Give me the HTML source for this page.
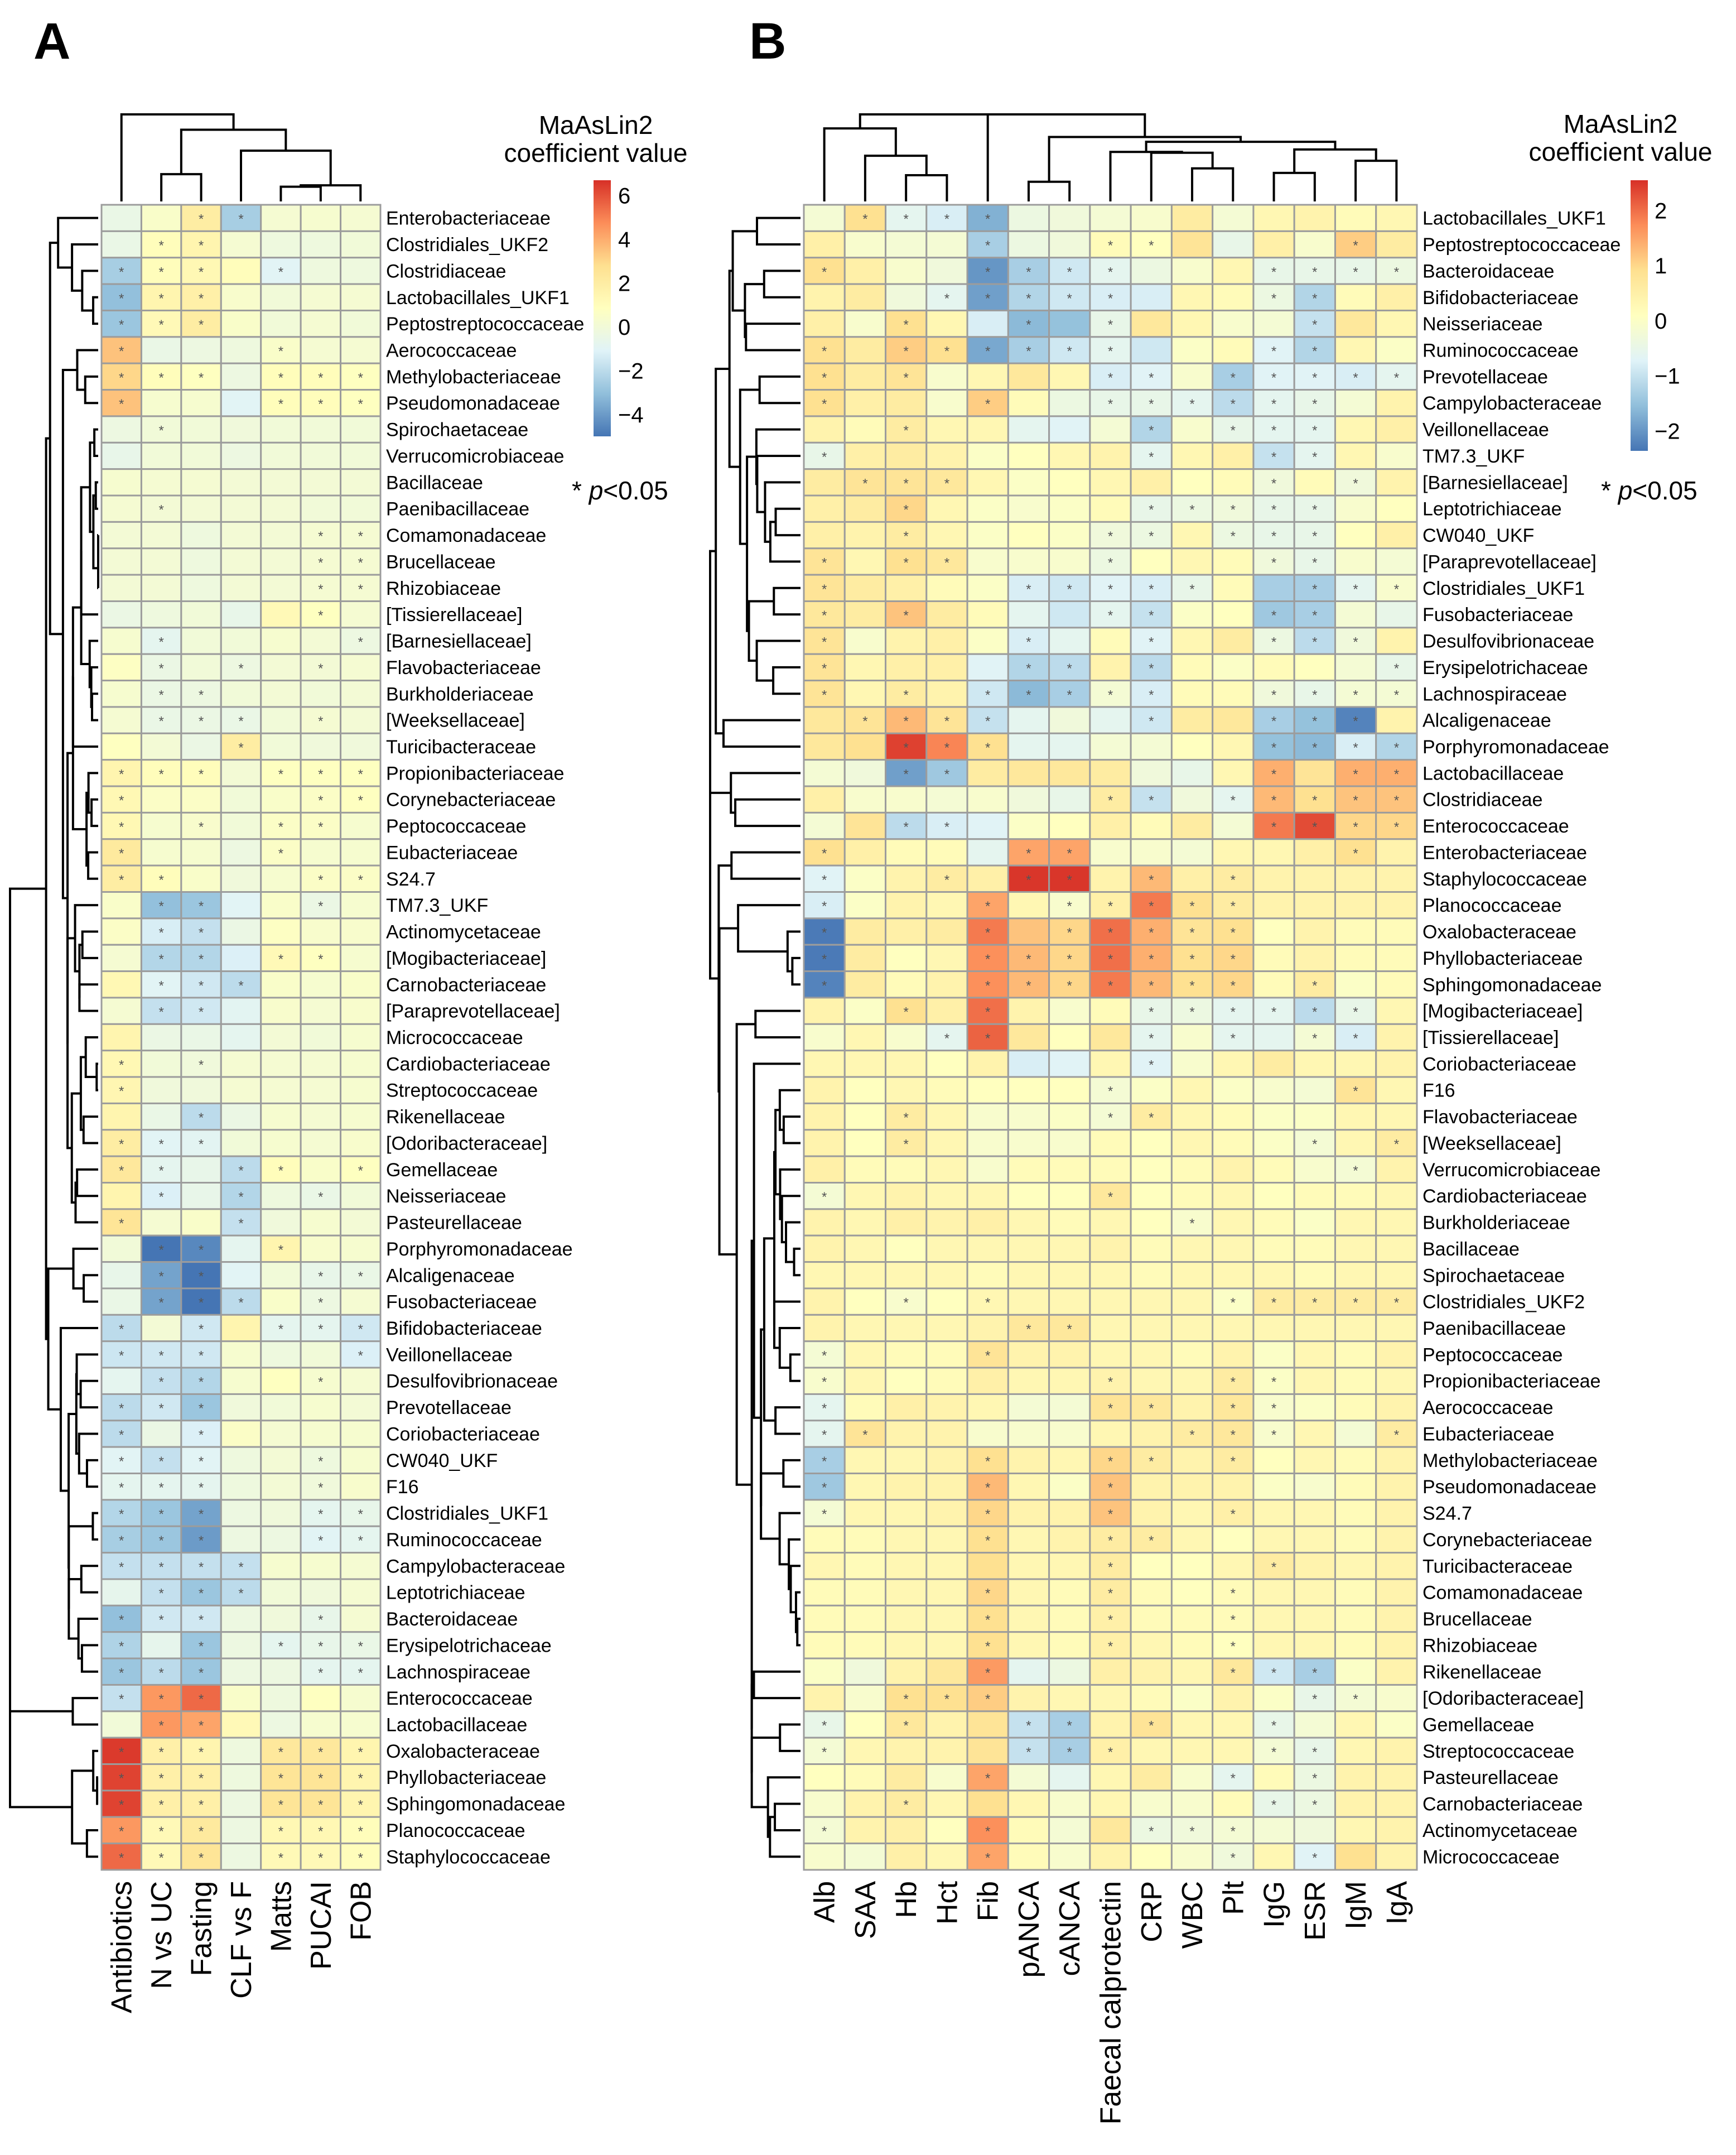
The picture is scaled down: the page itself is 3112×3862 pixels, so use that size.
<!DOCTYPE html>
<html><head><meta charset="utf-8"><title>MaAsLin2 heatmaps</title>
<style>
html,body{margin:0;padding:0;background:#fff;}
svg{display:block;font-family:"Liberation Sans",Arial,sans-serif;}
</style></head>
<body>
<svg id="chart" xmlns="http://www.w3.org/2000/svg" width="3112" height="3862" viewBox="0 0 3112 3862">
<defs>
<linearGradient id="gradA" x1="0" y1="1" x2="0" y2="0">
<stop offset="0" stop-color="#4575b4"/><stop offset="0.1667" stop-color="#91bfdb"/><stop offset="0.3333" stop-color="#e0f3f8"/><stop offset="0.5" stop-color="#ffffbf"/><stop offset="0.6667" stop-color="#fee090"/><stop offset="0.8333" stop-color="#fc8d59"/><stop offset="1" stop-color="#d73027"/>
</linearGradient>
</defs>
<rect x="0" y="0" width="3112" height="3862" fill="#fff"/>
<text x="60" y="105" font-size="92" font-weight="bold">A</text>
<text x="1343" y="105" font-size="92" font-weight="bold">B</text>
<g id="panelA"></g>
<g id="panelB"></g>
<g>
<text x="1068" y="240" font-size="46" text-anchor="middle">MaAsLin2</text>
<text x="1068" y="290" font-size="46" text-anchor="middle">coefficient value</text>
<rect x="1064" y="323" width="31" height="459" fill="url(#gradA)"/>
<g id="legendAticks"></g>
<text x="1025" y="895" font-size="46">* <tspan font-style="italic">p</tspan>&lt;0.05</text>
</g>
<g>
<text x="2905" y="238" font-size="46" text-anchor="middle">MaAsLin2</text>
<text x="2905" y="288" font-size="46" text-anchor="middle">coefficient value</text>
<rect x="2923" y="323" width="31" height="485" fill="url(#gradA)"/>
<g id="legendBticks"></g>
<text x="2870" y="895" font-size="46">* <tspan font-style="italic">p</tspan>&lt;0.05</text>
</g>
</svg>
<script>
const colsA = ["Antibiotics","N vs UC","Fasting","CLF vs F","Matts","PUCAI","FOB"];
const rowsA = ["Enterobacteriaceae","Clostridiales_UKF2","Clostridiaceae","Lactobacillales_UKF1","Peptostreptococcaceae","Aerococcaceae","Methylobacteriaceae","Pseudomonadaceae","Spirochaetaceae","Verrucomicrobiaceae","Bacillaceae","Paenibacillaceae","Comamonadaceae","Brucellaceae","Rhizobiaceae","[Tissierellaceae]","[Barnesiellaceae]","Flavobacteriaceae","Burkholderiaceae","[Weeksellaceae]","Turicibacteraceae","Propionibacteriaceae","Corynebacteriaceae","Peptococcaceae","Eubacteriaceae","S24.7","TM7.3_UKF","Actinomycetaceae","[Mogibacteriaceae]","Carnobacteriaceae","[Paraprevotellaceae]","Micrococcaceae","Cardiobacteriaceae","Streptococcaceae","Rikenellaceae","[Odoribacteraceae]","Gemellaceae","Neisseriaceae","Pasteurellaceae","Porphyromonadaceae","Alcaligenaceae","Fusobacteriaceae","Bifidobacteriaceae","Veillonellaceae","Desulfovibrionaceae","Prevotellaceae","Coriobacteriaceae","CW040_UKF","F16","Clostridiales_UKF1","Ruminococcaceae","Campylobacteraceae","Leptotrichiaceae","Bacteroidaceae","Erysipelotrichaceae","Lachnospiraceae","Enterococcaceae","Lactobacillaceae","Oxalobacteraceae","Phyllobacteriaceae","Sphingomonadaceae","Planococcaceae","Staphylococcaceae"];
const valsA = [
[-0.5,0.5,2,-2.5,0.2,0.3,0.2],[-0.5,1,1.5,0.2,-0.2,-0.2,0],[-2.5,1,1.3,1,-1,-0.2,-0.2],[-3,1.5,1.8,0.4,0,0.2,0.2],[-2.8,1.2,2,0.5,0,0.2,0],
[3.5,-0.5,-0.3,-0.2,0.5,0.2,0.2],[3,1,0.8,-0.3,1,1,0.8],[3.5,0.3,0.3,-1,1,1,0.8],[-0.3,0,0,-0.1,0,0,0],[-0.6,0,0,-0.3,0,0,0],
[0.3,0.2,0.2,0.1,0.1,0.1,0.1],[0.2,0.1,0.1,0.1,0.1,0,0],[0.1,0.1,-0.2,0.1,0.1,0.2,0.2],[0.1,0.1,-0.2,0.1,0.1,0.2,0.2],[0.1,0.1,-0.2,0.1,0.1,0.2,0.2],
[-0.4,-0.2,0,-0.6,1.2,0.8,0.2],[0.3,-0.8,0,0,0.3,0.1,-0.3],[0.7,-0.4,0,-0.3,0.1,0.1,0.2],[0.3,-0.4,-0.3,0,0.1,0,0.1],[0.2,-0.5,-0.4,-0.5,0,0.2,0.1],
[0.8,0.1,-0.4,2,0,-0.1,-0.1],[1.5,1,1,0.1,0.8,0.8,0.8],[1.3,0.6,0.6,0,0.5,0.6,0.8],[1.3,0.3,0.4,0,0.6,0.6,0.3],[2.2,0.3,0.3,-0.3,0.6,0.3,0.3],
[2,1,0.5,-0.1,0.3,0.6,0.6],[0.5,-3,-2.8,-1,0.5,-0.4,0.3],[0.6,-1.3,-1.8,-0.4,0.7,0.4,0.4],[0.2,-2.2,-2.2,-1.2,1.2,0.8,0.3],[1.3,-1,-1.5,-2,0.5,0.3,0.5],
[0.2,-1.8,-1.5,-0.9,0.4,0.2,0.4],[1.5,-0.4,-0.5,-0.8,0.1,0,0.3],[1.3,0,-0.1,0.2,0.2,0.2,0.3],[1.4,-0.1,-0.1,0.2,0.2,0.2,0.3],[1.5,-0.5,-2,-0.4,0.3,0.2,0.3],
[2,-1,-0.9,0,0.3,0.2,0.4],[2.3,-0.8,-0.6,-2,1,0.5,0.8],[1.5,-1.2,-0.6,-2.2,-0.2,-0.5,0],[2.5,0.2,0.5,-1.8,-0.1,0.3,0.1],[0,-5,-4.5,-0.8,1.5,0.4,0.3],
[-0.6,-3.8,-5,-1,0,-0.6,-0.5],[-0.5,-3.8,-5,-2,0.5,-0.3,0.2],[-2,0.1,-1.5,1.5,-0.8,-0.8,-1.5],[-1.6,-1.5,-1.5,0.3,-0.2,0,-1.2],[-0.8,-1.8,-2.2,0.3,0.8,0.3,0.2],
[-2,-1.5,-2.8,-0.1,0,0.3,0.1],[-2,-0.4,-1.2,0.6,0.2,0.3,0.3],[-1,-1.8,-1,-0.2,0.1,-0.2,0.3],[-0.8,-0.8,-0.8,-0.2,0.1,-0.1,0.4],[-2.2,-2.8,-3.8,-0.3,-0.1,-0.8,-0.6],
[-2.5,-2.8,-4,-0.3,-0.3,-1,-0.8],[-1.8,-1.8,-1.8,-1.8,0.3,0.3,0.2],[-0.7,-1.8,-2.8,-2,0,-0.1,0.2],[-3,-1.5,-1.5,-0.3,-0.1,-0.6,0.2],[-2.3,-0.7,-2.8,-0.3,-0.8,-0.6,-0.5],
[-2.8,-2,-2.8,-0.3,-0.3,-0.8,-0.8],[-1.8,4.5,5.5,0.5,-0.2,0.8,0.3],[0,4.5,4.2,1.2,-0.3,0.3,0.3],[6.5,1.8,1.5,-0.2,2.3,2.3,1.5],[6.3,1.8,1.8,-0.2,2.5,2.5,1.5],
[6.3,1.8,1.8,-0.3,2.5,2.5,1.5],[4.5,1.2,2.2,-0.3,1.3,1.3,1],[5.5,1.2,2.5,-0.3,1.2,1.2,1]];
const sigA = [
"0011000","0110000","1110100","1110000","1110000","1000100","1110111","1000111","0100000","0000000",
"0000000","0100000","0000011","0000011","0000011","0000010","0100001","0101010","0110000","0111010",
"0001000","1110111","1000011","1010110","1000100","1100011","0110010","0110000","0110110","0111000",
"0110000","0000000","1010000","1000000","0010000","1110000","1101101","0101010","1001000","0110100",
"0110011","0111010","1010111","1110001","0110010","1110000","1010000","1110010","1110010","1110011",
"1110011","1111000","0111000","1110010","1010111","1110011","1110000","0110000","1110111","1110111",
"1110111","1110111","1110111"];
const ticksA = [6,4,2,0,-2,-4];
const rangeA = [-5.0,6.7];

const colsB = ["Alb","SAA","Hb","Hct","Fib","pANCA","cANCA","Faecal calprotectin","CRP","WBC","Plt","IgG","ESR","IgM","IgA"];
const rowsB = ["Lactobacillales_UKF1","Peptostreptococcaceae","Bacteroidaceae","Bifidobacteriaceae","Neisseriaceae","Ruminococcaceae","Prevotellaceae","Campylobacteraceae","Veillonellaceae","TM7.3_UKF","[Barnesiellaceae]","Leptotrichiaceae","CW040_UKF","[Paraprevotellaceae]","Clostridiales_UKF1","Fusobacteriaceae","Desulfovibrionaceae","Erysipelotrichaceae","Lachnospiraceae","Alcaligenaceae","Porphyromonadaceae","Lactobacillaceae","Clostridiaceae","Enterococcaceae","Enterobacteriaceae","Staphylococcaceae","Planococcaceae","Oxalobacteraceae","Phyllobacteriaceae","Sphingomonadaceae","[Mogibacteriaceae]","[Tissierellaceae]","Coriobacteriaceae","F16","Flavobacteriaceae","[Weeksellaceae]","Verrucomicrobiaceae","Cardiobacteriaceae","Burkholderiaceae","Bacillaceae","Spirochaetaceae","Clostridiales_UKF2","Paenibacillaceae","Peptococcaceae","Propionibacteriaceae","Aerococcaceae","Eubacteriaceae","Methylobacteriaceae","Pseudomonadaceae","S24.7","Corynebacteriaceae","Turicibacteraceae","Comamonadaceae","Brucellaceae","Rhizobiaceae","Rikenellaceae","[Odoribacteraceae]","Gemellaceae","Streptococcaceae","Pasteurellaceae","Carnobacteriaceae","Actinomycetaceae","Micrococcaceae"];
const valsB = [
[-0.2,0.9,-0.6,-0.8,-1.7,-0.4,-0.3,-0.2,-0.1,0.6,-0.2,0.3,0.4,0.2,0.3],
[0.5,-0.1,-0.2,-0.2,-1.3,-0.4,-0.3,0.2,0.1,0.8,-0.5,0.5,-0.1,1.1,0.6],
[0.9,0.5,-0.1,-0.3,-2,-1.3,-0.9,-0.6,-0.4,-0.1,0.3,-0.5,-0.5,-0.5,-0.4],
[0.4,0.6,-0.3,-0.6,-1.9,-1.2,-0.9,-0.8,-0.8,0.3,0.2,-0.4,-1.2,0.2,0.5],
[0.5,-0.1,0.9,0.3,-0.8,-1.6,-1.5,-0.5,0.7,0.3,-0.1,-0.2,-1,0.7,0.3],
[0.9,0.6,1.1,0.9,-1.8,-1.3,-0.9,-0.6,-0.9,0,0.2,-0.7,-1.2,0.3,0],
[0.9,0.6,0.8,-0.1,0.3,0.7,0.3,-0.8,-0.7,-0.1,-1.3,-0.7,-0.7,-0.8,-0.6],
[0.9,0.5,0.6,-0.1,1.1,0.2,-0.4,-0.5,-0.5,-0.6,-1.1,-0.6,-0.5,-0.2,0.4],
[0.4,0.2,0.6,0.3,0.3,-0.6,-0.7,-0.2,-1.2,-0.1,-0.5,-0.6,-0.6,0.3,0.5],
[-0.5,0.5,0.6,0.4,0,0.1,0.3,0.4,-0.6,0.3,0.5,-1,-0.6,0.3,-0.1],
[0.6,0.8,0.8,0.7,0.3,0,0.1,0.3,0.5,0.1,0.2,-0.3,0.2,-0.3,0.4],
[0.5,0.6,1,0.3,0,-0.1,0,0.2,-0.5,-0.4,-0.3,-0.5,-0.5,-0.1,0.1],
[0.5,0.4,0.6,0.3,0,0.1,0,-0.3,-0.4,0.3,-0.4,-0.5,-0.5,0.1,0.5],
[0.8,0.3,0.9,0.7,-0.1,-0.1,-0.1,-0.4,0.1,0.3,0.2,-0.3,-0.5,-0.1,-0.2],
[0.8,0.6,0.5,0.2,0,-0.8,-0.9,-0.7,-0.8,-0.5,0.2,-1.3,-1.3,-0.6,-0.1],
[0.7,0.6,1.2,0.6,0.2,-0.6,-0.9,-0.6,-1,0,0.1,-1.4,-1.3,-0.2,-0.5],
[0.8,-0.1,0.4,0.5,0,-0.8,-0.6,0.2,-0.7,0.3,0.6,-0.4,-1.1,-0.3,0.4],
[0.8,0.3,0.5,0.5,-0.7,-1.2,-1.1,0.4,-1.1,0.2,0,0.2,0.1,-0.2,-0.5],
[0.8,0.3,0.6,0.4,-0.9,-1.6,-1.3,-0.2,-0.8,0.2,0.2,-0.3,-0.5,-0.2,-0.2],
[0.7,0.8,1.3,0.8,-1,-0.6,-0.3,-0.6,-0.9,0.6,0.7,-1.3,-1.5,-2.2,0.4],
[0.7,0.9,2.4,1.8,0.9,-0.6,-0.6,-0.2,-0.2,0.1,0.3,-1.5,-1.6,-0.8,-1.2],
[-0.2,-0.3,-1.9,-1.4,0.6,0.7,0.7,0.6,-0.3,-0.5,0.3,1.4,0.8,1.4,1.4],
[0.5,-0.1,-0.1,-0.2,-0.1,-0.3,-0.5,0.6,-1,-0.3,-0.6,1.3,0.9,1.2,1.2],
[-0.2,0.8,-1.1,-0.8,-0.7,0,0.1,0.5,0.2,0.6,-0.2,1.9,2.3,1,1],
[0.9,0.5,0.2,0.2,-0.6,1.5,1.5,-0.1,-0.1,-0.2,0.3,0.3,0.5,0.9,0.4],
[-0.7,0,0.4,0.6,0.5,2.5,2.5,0.4,1.3,0.5,0.6,0.4,0.4,0.4,0.4],
[-0.8,0,0.4,0.3,1.5,0.3,-0.1,0.5,1.9,0.9,0.6,0.4,0.4,0.4,0.4],
[-2.3,0.6,0.5,0.6,1.9,1.2,1,2,1.4,0.8,0.9,0.1,0.4,0.2,0.2],
[-2.3,0.6,0.1,0.3,1.7,1.3,1,2,1.4,0.9,1,0.2,0.4,0.2,0.2],
[-2.2,0.6,0.2,0.4,1.7,1.3,1,1.9,1.3,0.9,1,0.2,0.6,0,0.2],
[0.4,0,0.9,0.5,2,0.4,-0.1,0.2,-0.5,-0.4,-0.6,-0.6,-1.1,-0.5,0.3],
[-0.1,0.3,-0.1,-0.6,2.1,0.7,0.1,0.7,-0.6,-0.1,-0.6,-0.6,-0.2,-0.8,0.4],
[0.3,0.3,0.3,0.1,0.4,-0.8,-0.7,0.3,-0.7,-0.1,0.3,0.6,0.3,0.3,0.4],
[0.4,0.1,0.3,0.2,0.1,0.1,0.1,-0.2,0,0.3,0,-0.1,-0.2,0.8,0.3],
[0.4,0.1,0.6,0.3,-0.1,-0.1,0,-0.2,0.6,0.3,0.2,0,0,0.3,0.3],
[0.4,0.1,0.6,0.3,-0.1,-0.1,-0.1,0.2,0.1,0.3,0.2,0,-0.2,0.3,0.6],
[0.5,0.2,0.2,0.3,-0.1,0.2,0.2,0.2,0.1,0.2,0.4,0.2,-0.1,-0.2,0.4],
[-0.2,0.3,0.4,0.3,0.3,0.1,0.1,0.7,0.1,0.2,0.3,0.1,0.2,0.2,0.3],
[0.4,0.3,0.5,0.4,0.5,0.3,0.2,0.3,0.1,-0.1,0.3,0.2,0,0.3,0.3],
[0.4,0.3,0.1,0.3,0.3,0.3,0.3,0.4,0.2,0.3,0.3,0.2,0.2,0.3,0.3],
[0.3,0.3,0.3,0.3,0.2,0.3,0.3,0.3,0.2,0.3,0.3,0.3,0.2,0.3,0.3],
[0.4,0.1,-0.1,0.1,0.3,0.3,0.3,0.3,0.3,0.3,0,0.6,0.6,0.6,0.6],
[0.4,0.3,0.3,0.3,0.4,0.7,0.7,0.3,0.3,0.3,0.3,0.3,0.3,0.3,0.3],
[-0.2,0.3,0.2,0.2,0.8,0.4,0.4,0.3,0.3,0.2,0.4,0,0.3,0.2,0.4],
[-0.1,0.3,0.1,0.2,0.5,0.3,0.3,0.4,0.3,0.3,0.6,0,0.3,0.2,0.3],
[-0.6,0.2,0.5,0.4,0.3,-0.2,-0.2,0.8,0.7,0.4,0.7,-0.1,0,0.2,0.4],
[-0.6,0.8,0.4,0.4,-0.1,-0.1,-0.1,0.3,0.4,0.6,0.7,-0.1,0.3,-0.2,0.6],
[-1.3,0.3,0.3,0.4,0.9,0.4,0.3,1,0.6,0.4,0.6,0.1,0.3,0.2,0.4],
[-1.4,0.3,0.4,0.4,1.3,0.3,0,1.2,0.4,0.4,0.4,0,-0.1,0.2,0.4],
[-0.2,0.3,0.3,0.4,1,0.4,0.4,1.2,0.4,0.3,0.5,0.3,0.3,0.2,0.4],
[0.2,0.2,0.3,0.3,0.9,0.3,0.4,0.6,0.6,0.3,0.1,0.3,0.3,0.2,0.4],
[0.3,0.2,0.3,0.3,0.9,0.3,0.3,0.6,0.1,0.1,0.3,0.6,0.4,0.3,0.4],
[0.2,0.2,0.3,0.3,1,0.3,0.2,0.6,0.2,0.1,0.2,0.3,0.3,0.2,0.4],
[0.2,0.2,0.3,0.3,0.9,0.3,0.2,0.5,0.2,0.2,0.2,0.3,0.3,0.2,0.4],
[0.2,0.2,0.3,0.3,0.9,0.3,0.2,0.5,0.3,0.2,0.1,0.3,0.3,0.2,0.4],
[0,-0.3,0.4,0.7,1.6,-0.6,-0.4,0.5,0.4,0.3,0.7,-0.9,-1.3,0,0.4],
[0.4,-0.1,0.9,0.9,1.1,0.4,0.3,0.3,0.2,0,0.4,0,-0.5,-0.2,-0.1],
[-0.5,0.1,0.7,0.4,0.8,-1,-1.3,0.4,0.8,0.3,0.3,-0.5,-0.2,0.3,0],
[-0.2,0.3,0.4,0.4,0.8,-1,-1.3,0.5,0.3,0.3,0.3,-0.2,-0.5,0.3,0.4],
[0.1,0.2,0.6,-0.1,1.5,-0.2,-0.6,0.3,0.6,-0.1,-0.6,0.2,-0.4,0.4,0.4],
[-0.1,0.4,0.6,0.3,0.9,0.3,-0.1,0.3,-0.1,-0.1,0.2,-0.5,-0.4,0.4,0.4],
[-0.2,0.4,0.5,0.1,1.7,0.2,-0.2,0.7,-0.4,-0.3,-0.2,-0.2,-0.3,0.3,0.4],
[-0.1,-0.2,0.5,0.3,1.5,0.2,-0.1,0.4,0.1,-0.1,-0.3,0.3,-0.7,0.9,0.4]];
const sigB = [
"011110000000000","000010011000010","100011110001111","000111110001100","001001010000100",
"101111110001100","101000011011111","100010011111100","001000001011100","100000001001100",
"011100000001010","001000001111100","001000011011100","101100010001100","100001111100111",
"101000011001100","100001001001110","100001101000001","101011111001111","011110001001110",
"001110000001111","001100000001011","000000011011111","001100000001111","100001100000010",
"100101101010000","100010111110000","100010111110000","100011111110000","100011111110100",
"001010001111110","000110001010110","000000001000000","000000010000010","001000011000000",
"001000000000101","000000000000010","100000010000000","000000000100000","000000000000000",
"000000000000000","001010000011111","000001100000000","100010000000000","100000010011000",
"100000011011000","110000000111001","100010011010000","100010010000000","100010010010000",
"000010011000000","000000010001000","000010010010000","000010010010000","000010010010000",
"000010000011100","001110000000110","101001101001000","100001110001100","000010000010100",
"001000000001100","100010001110000","000010000010100"];
const ticksB = [2,1,0,-1,-2];
const rangeB = [-2.36,2.55];

const NS = "http://www.w3.org/2000/svg";
const PAL = ["#4575b4","#91bfdb","#e0f3f8","#ffffbf","#fee090","#fc8d59","#d73027"];
function hex(c){return [parseInt(c.slice(1,3),16),parseInt(c.slice(3,5),16),parseInt(c.slice(5,7),16)];}
function colorScale(v, rng){
  let t=(v-rng[0])/(rng[1]-rng[0]); t=Math.max(0,Math.min(1,t));
  const p=t*(PAL.length-1); const i=Math.min(PAL.length-2,Math.floor(p)); const f=p-i;
  const a=hex(PAL[i]), b=hex(PAL[i+1]);
  return "rgb("+a.map((x,k)=>Math.round(x+(b[k]-x)*f)).join(",")+")";
}
function mk(tag, attrs, parent){
  const e=document.createElementNS(NS,tag);
  for(const k in attrs) e.setAttribute(k,attrs[k]);
  parent.appendChild(e); return e;
}
function dist(a,b){let s=0;for(let i=0;i<a.length;i++){s+=(a[i]-b[i])**2;}return Math.sqrt(s);}
function cluster(vecs){
  let cl=vecs.map((v,i)=>({m:[i],pos:i,h:0,kids:null}));
  while(cl.length>1){
    let bi=0,bd=Infinity;
    for(let i=0;i<cl.length-1;i++){
      let s=0,n=0;
      for(const x of cl[i].m) for(const y of cl[i+1].m){s+=dist(vecs[x],vecs[y]);n++;}
      const d=s/n; if(d<bd){bd=d;bi=i;}
    }
    const a=cl[bi], b=cl[bi+1];
    const node={m:a.m.concat(b.m),pos:(a.pos+b.pos)/2,h:Math.max(bd,a.h,b.h)+0.0001,kids:[a,b]};
    cl.splice(bi,2,node);
  }
  return cl[0];
}
function drawTree(node, g, posF, hF, orient){
  if(!node.kids) return;
  const pts=[];
  for(const k of node.kids){
    drawTree(k,g,posF,hF,orient);
    pts.push(k);
  }
  let d="";
  const P=(pos,h)=>orient==="row"?[hF(h),posF(pos)]:[posF(pos),hF(h)];
  const a0=P(pts[0].pos,pts[0].h), a1=P(pts[0].pos,node.h), b1=P(pts[1].pos,node.h), b0=P(pts[1].pos,pts[1].h);
  d="M"+a0.join(",")+"L"+a1.join(",")+"L"+b1.join(",")+"L"+b0.join(",");
  const p=mk("path",{d:d,fill:"none",stroke:"#000","stroke-width":4},g);
  
  
}
function drawPanel(gid, rows, cols, vals, sig, rng, L, T, W, H, treeLeft, treeTop, key){
  const g=document.getElementById(gid);
  const cw=W/cols.length, rh=H/rows.length;
  const xS=i=>L+cw*(i+0.5), yS=j=>T+rh*(j+0.5);
  vals.forEach((row,j)=>{
    row.forEach((v,i)=>{
      const r=mk("rect",{x:L+cw*i,y:T+rh*j,width:cw,height:rh,fill:colorScale(v,rng),stroke:"#9c9c9c","stroke-width":3},g);
      
      
      if(sig[j][i]==="1"){
        const s=mk("text",{x:xS(i),y:yS(j)+10,"font-size":24,fill:"#555","text-anchor":"middle"},g);
        s.textContent="*";
        
        
      }
    });
  });
  rows.forEach((n,j)=>{
    const t=mk("text",{x:L+W+10,y:yS(j)+12,"font-size":34,fill:"#000"},g);
    t.textContent=n;
    
    
  });
  cols.forEach((n,i)=>{
    const x=xS(i)+18, y=T+H+20;
    const t=mk("text",{x:x,y:y,"font-size":52,fill:"#000","text-anchor":"end",transform:"rotate(-90 "+x+" "+y+")"},g);
    t.textContent=n;
    
    
  });
  // row dendrogram
  const rt=cluster(vals);
  const rEdge=L-6, rSpan=rEdge-treeLeft;
  drawTree(rt,g,p=>yS(p),h=>rEdge-h/rt.h*rSpan,"row");
  // column dendrogram
  const tv=cols.map((c,i)=>vals.map(r=>r[i]));
  const ct=cluster(tv);
  const cEdge=T-6, cSpan=cEdge-treeTop;
  drawTree(ct,g,p=>xS(p),h=>cEdge-h/ct.h*cSpan,"col");
}
drawPanel("panelA",rowsA,colsA,valsA,sigA,rangeA,182,367,500,2984,18,205,"panel-a");
drawPanel("panelB",rowsB,colsB,valsB,sigB,rangeB,1441,367,1099,2984,1273,205,"panel-b");

function legendTicks(gid, ticks, rng, top, h, x){
  const g=document.getElementById(gid);
  ticks.forEach(v=>{
    const y=top+h*(1-(v-rng[0])/(rng[1]-rng[0]));
    const t=mk("text",{x:x,y:y+14,"font-size":40,fill:"#000"},g);
    t.textContent=(v<0?"\u2212"+(-v):String(v));
    
    
  });
}
legendTicks("legendAticks",ticksA,rangeA,323,459,1108);
legendTicks("legendBticks",ticksB,rangeB,323,485,2966);
</script>
</body></html>
